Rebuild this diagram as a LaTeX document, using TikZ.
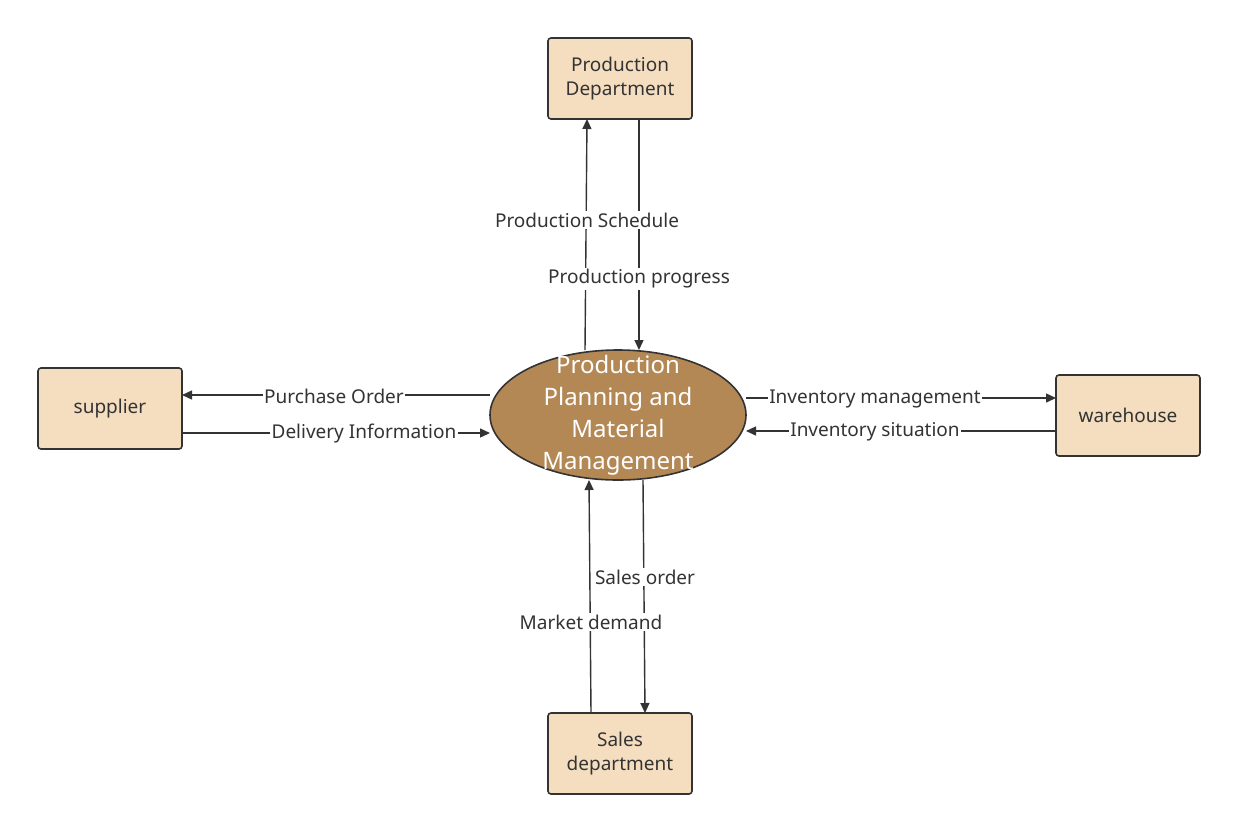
\documentclass[tikz,border=0pt]{standalone}
\usepackage{fontspec}
\setmainfont{Noto Sans}
\usetikzlibrary{arrows.meta,shapes.geometric}
\definecolor{boxfill}{HTML}{F5DEC0}
\definecolor{ellfill}{HTML}{B38855}
\definecolor{ink}{HTML}{333333}
\begin{document}
\begin{tikzpicture}[x=1pt,y=-1pt,
  box/.style={draw=ink,line width=1.6pt,fill=boxfill,rounded corners=3pt,minimum width=144pt,minimum height=81pt,align=center,font=\fontsize{19}{24}\selectfont,text=ink},
  flow/.style={draw=ink,line width=1.4pt,-{Triangle[length=10pt,width=9pt]}},
  lab/.style={fill=white,inner sep=1.5pt,font=\fontsize{19}{22}\selectfont,text=ink}]
\useasboundingbox (0,0) rectangle (1237,831);
\node[box] (pd) at (620,78.5) {Production\\Department};
\node[box] (sup) at (110,408.5) {supplier};
\node[box] (wh) at (1128,415.5) {warehouse};
\node[box] (sd) at (620,753.5) {Sales\\department};
\node[ellipse,draw=ink,line width=1.6pt,fill=ellfill,minimum width=256pt,minimum height=130pt,inner sep=0pt] (c) at (618,415) {};
\node[align=center,text=white,font=\fontsize{24}{32}\selectfont] (ct) at (618,415) {Production\\Planning and\\Material\\Management};
% endpoints
\coordinate (a1) at (585,350); \coordinate (a2) at (587,119);
\coordinate (b1) at (639,119); \coordinate (b2) at (639,350);
\coordinate (c1) at (490,395); \coordinate (c2) at (182,395);
\coordinate (d1) at (182,433); \coordinate (d2) at (490,433);
\coordinate (e1) at (746,398); \coordinate (e2) at (1056,398);
\coordinate (f1) at (1056,431); \coordinate (f2) at (746,431);
\coordinate (g1) at (591,713); \coordinate (g2) at (589,480);
\coordinate (h1) at (643,480); \coordinate (h2) at (645,713);
\draw[flow] (a1) -- (a2);
\draw[flow] (b1) -- (b2);
\draw[flow] (c1) -- (c2);
\draw[flow] (d1) -- (d2);
\draw[flow] (e1) -- (e2);
\draw[flow] (f1) -- (f2);
\draw[flow] (g1) -- (g2);
\draw[flow] (h1) -- (h2);
\node[lab] (l1) at (587,220) {Production Schedule};
\node[lab] (l2) at (639,279) {Production progress};
\node[lab] (l3) at (334,396) {Purchase Order};
\node[lab] (l4) at (364,434) {Delivery Information};
\node[lab] (l5) at (875,399) {Inventory management};
\node[lab] (l6) at (875,432) {Inventory situation};
\node[lab] (l7) at (591,622) {Market demand};
\node[lab] (l8) at (645,577) {Sales order};
\end{tikzpicture}
\end{document}
